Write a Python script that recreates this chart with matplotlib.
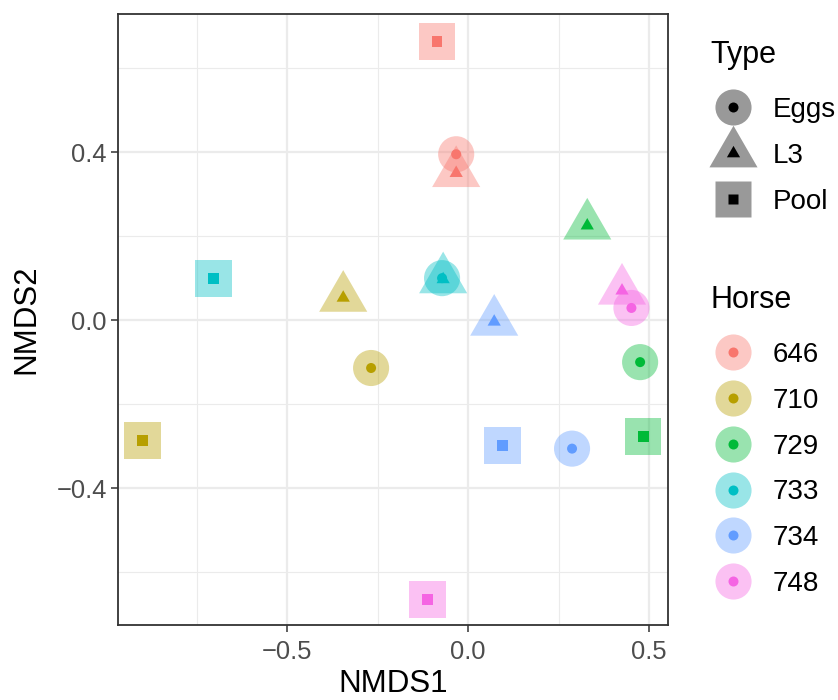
import numpy as np
import matplotlib.pyplot as plt
from matplotlib.lines import Line2D
from matplotlib.path import Path
from matplotlib.legend_handler import HandlerTuple

plt.rcParams['font.family'] = ['Liberation Sans', 'DejaVu Sans']

# NMDS scores
horse = ['646', '646', '646', '710', '710', '710', '729', '729', '729',
         '733', '733', '733', '734', '734', '734', '748', '748', '748']
stype = ['Eggs', 'L3', 'Pool'] * 6
nmds1 = [-0.033, -0.033, -0.086, -0.268, -0.345, -0.900, 0.475, 0.329, 0.483,
         -0.072, -0.069, -0.702, 0.287, 0.072, 0.094, 0.451, 0.425, -0.113]
nmds2 = [0.395, 0.350, 0.664, -0.114, 0.053, -0.286, -0.100, 0.225, -0.277,
         0.100, 0.097, 0.100, -0.306, -0.004, -0.298, 0.029, 0.070, -0.665]

horse_levels = ['646', '710', '729', '733', '734', '748']
horse_cols = ['#F8766D', '#B79F00', '#00BA38', '#00BFC4', '#619CFF', '#F564E3']
type_levels = ['Eggs', 'L3', 'Pool']

tri = Path([(0, 1), (-np.sqrt(3) / 2, -0.5), (np.sqrt(3) / 2, -0.5), (0, 1)],
           [Path.MOVETO, Path.LINETO, Path.LINETO, Path.CLOSEPOLY])
shape = {'Eggs': 'o', 'L3': tri, 'Pool': 's'}
big = {'Eggs': 26, 'L3': 40, 'Pool': 26.6}
small = {'Eggs': 7.2, 'L3': 11, 'Pool': 7.9}

colmap = dict(zip(horse_levels, horse_cols))
x = np.array(nmds1)
y = np.array(nmds2)
cols = np.array([colmap[h] for h in horse])
types = np.array(stype)

fig = plt.figure(figsize=(8.38, 7), dpi=100)
ax = fig.add_axes([118 / 838, 75 / 700, 550 / 838, 611 / 700])

for t in type_levels:
    m = types == t
    ax.scatter(x[m], y[m], s=big[t] ** 2, marker=shape[t], c=list(cols[m]),
               alpha=0.4, linewidths=0, zorder=3)
for t in type_levels:
    m = types == t
    ax.scatter(x[m], y[m], s=small[t] ** 2, marker=shape[t], c=list(cols[m]),
               linewidths=0, zorder=4)

ax.set_xlim(-0.967, 0.552)
ax.set_ylim(-0.726, 0.729)
ax.set_xticks([-0.5, 0.0, 0.5])
ax.set_xticklabels(['\u22120.5', '0.0', '0.5'])
ax.set_yticks([-0.4, 0.0, 0.4])
ax.set_yticklabels(['\u22120.4', '0.0', '0.4'])
ax.set_xticks([-0.75, -0.25, 0.25], minor=True)
ax.set_yticks([-0.6, -0.2, 0.2, 0.6], minor=True)
ax.grid(True, which='major', color='#EBEBEB', lw=1.6, zorder=0)
ax.grid(True, which='minor', color='#EBEBEB', lw=0.8, zorder=0)
ax.set_axisbelow(True)
ax.tick_params(which='major', length=5, width=1.1, color='#333333',
               labelsize=18.4, labelcolor='#4D4D4D')
ax.tick_params(axis='x', which='major', pad=5.5)
ax.tick_params(axis='y', which='major', pad=3)
ax.tick_params(which='minor', length=0)
for sp in ax.spines.values():
    sp.set_color('#333333')
    sp.set_linewidth(1.3)
ax.set_xlabel('NMDS1', fontsize=22.5, labelpad=4)
ax.set_ylabel('NMDS2', fontsize=22.5, labelpad=11)

# legends
type_handles = []
for t in type_levels:
    h1 = Line2D([], [], ls='', marker=shape[t], ms=big[t], mfc='black',
                mec='none', alpha=0.4)
    h2 = Line2D([], [], ls='', marker=shape[t], ms=small[t], mfc='black',
                mec='none')
    type_handles.append((h1, h2))
horse_handles = []
for c in horse_cols:
    h1 = Line2D([], [], ls='', marker='o', ms=big['Eggs'], mfc=c, mec='none',
                alpha=0.4)
    h2 = Line2D([], [], ls='', marker='o', ms=small['Eggs'], mfc=c, mec='none')
    horse_handles.append((h1, h2))

kw = dict(frameon=False, loc='upper left', fontsize=20, title_fontsize=22,
          alignment='left', handlelength=1.65, handletextpad=0.6,
          labelspacing=0.71, borderpad=0, borderaxespad=0,
          handler_map={tuple: HandlerTuple(ndivide=1)})
leg1 = fig.legend(type_handles, type_levels, title='Type',
                  bbox_to_anchor=(710 / 838, 1 - 40 / 700), **kw)
leg2 = fig.legend(horse_handles, horse_levels, title='Horse',
                  bbox_to_anchor=(710 / 838, 1 - 285 / 700), **kw)
for lg in (leg1, leg2):
    lg._legend_box.sep = 19.5

fig.savefig('out.png', dpi=100)
